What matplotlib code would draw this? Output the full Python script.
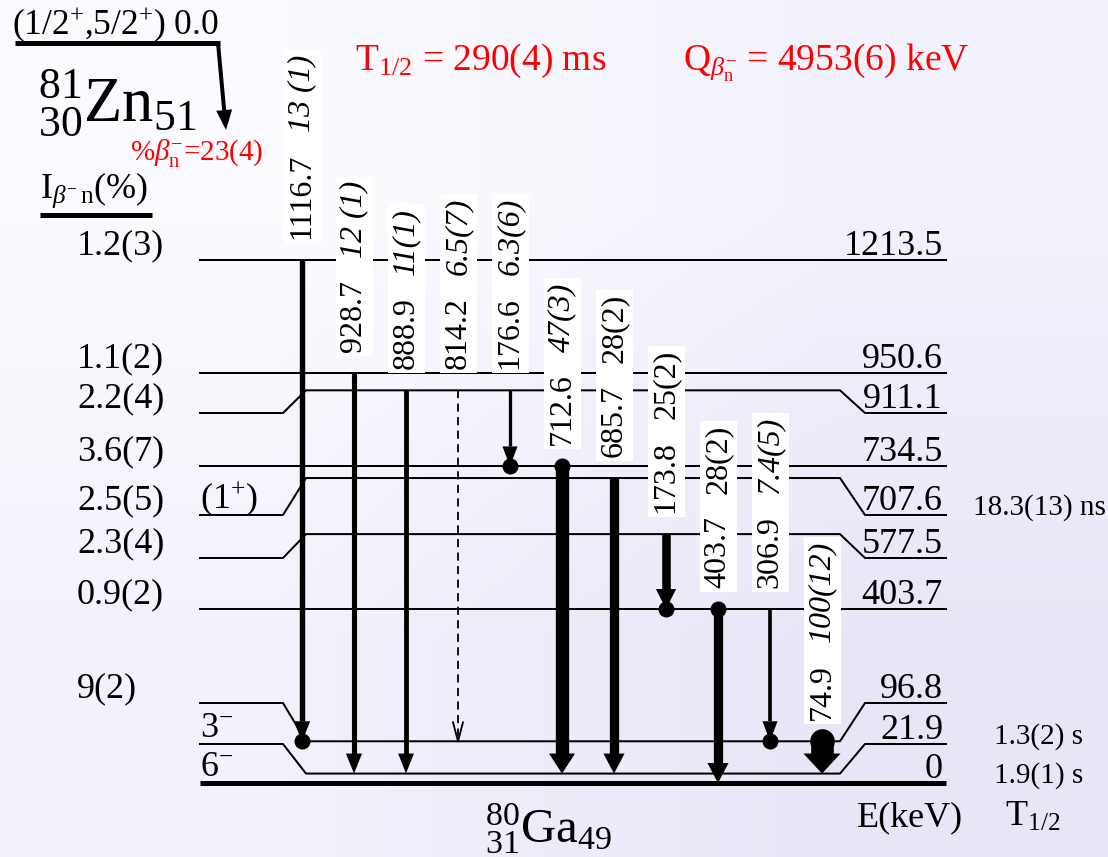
import numpy as np
import matplotlib
matplotlib.use("Agg")
import matplotlib.pyplot as plt
from matplotlib.patches import Rectangle
from matplotlib.transforms import Bbox

plt.rcParams['font.family'] = ['Liberation Serif', 'DejaVu Serif']
plt.rcParams['mathtext.fontset'] = 'custom'
plt.rcParams['mathtext.rm'] = 'Liberation Serif'
plt.rcParams['mathtext.it'] = 'Liberation Serif:italic'
plt.rcParams['mathtext.bf'] = 'Liberation Serif:bold'

W, H = 1108, 857

# levels of 80Ga (keV) and what goes with them
levels = [0.0, 21.9, 96.8, 403.7, 577.5, 707.6, 734.5, 911.1, 950.6, 1213.5]
level_labels = ["0", "21.9", "96.8", "403.7", "577.5", "707.6", "734.5", "911.1", "950.6", "1213.5"]
feeding = ["", "", "9(2)", "0.9(2)", "2.3(4)", "2.5(5)", "3.6(7)", "2.2(4)", "1.1(2)", "1.2(3)"]
spins = [r"6$^{-}$", r"3$^{-}$", "", "", "", r"(1$^{+}$)", "", "", "", ""]
half_lives = ["1.9(1) s", "1.3(2) s", "", "", "", "18.3(13) ns", "", "", "", ""]

# gamma transitions
gammas = [1116.7, 928.7, 888.9, 814.2, 176.6, 712.6, 685.7, 173.8, 403.7, 306.9, 74.9]
g_from = [1213.5, 950.6, 911.1, 911.1, 911.1, 734.5, 707.6, 577.5, 403.7, 403.7, 96.8]
g_int = [13, 12, 11, 6.5, 6.3, 47, 28, 25, 28, 7.4, 100]
g_int_txt = ["13 (1)", "12 (1)", "11(1)", "6.5(7)", "6.3(6)", "47(3)", "28(2)", "25(2)", "28(2)", "7.4(5)", "100(12)"]
tentative = [814.2]
coinc_start = [712.6, 403.7, 74.9]
coinc_end = [1116.7, 176.6, 173.8, 306.9]
upright_int = [685.7, 173.8, 403.7]

# layout (pixels)
Y0 = 783.0
K = 523.0 / 1213.5          # px per keV


def E(py):
    # pixel row -> keV on the drawing axis
    return (Y0 - py) / K


side_px = {21.9: 744, 96.8: 703, 577.5: 558, 707.6: 515, 911.1: 413}
XL0, XL1, XM0, XM1, XR1, XR0 = 200, 283, 306, 840, 865, 946
PX = 0.72  # points per pixel

fig = plt.figure(figsize=(W / 100, H / 100), dpi=100)
ax = fig.add_axes([0, 0, 1, 1])

# background
grad = np.array([[[0.985, 0.985, 1.0], [0.95, 0.95, 0.99]],
                 [[0.95, 0.95, 0.99], [0.905, 0.905, 0.97]]])
ax.imshow(grad, extent=[0, W, E(H), E(0)], aspect='auto', interpolation='bilinear', zorder=0)
ax.set_xlim(0, W)
ax.set_ylim(E(H), E(0))
ax.axis('off')
rend = fig.canvas.get_renderer()
inv = ax.transData.inverted()

# levels
for lev, lab, fd, sp, hl in zip(levels, level_labels, feeding, spins, half_lives):
    ys = E(side_px[lev]) if lev in side_px else lev
    if lev == 0:
        ax.plot([XL0, XR0], [lev, lev], color='k', lw=5 * PX, solid_capstyle='butt', zorder=2)
    else:
        ax.plot([XL0, XL1, XM0, XM1, XR1, XR0], [ys, ys, lev, lev, ys, ys],
                color='k', lw=2 * PX, zorder=2)
    ax.text(943, ys + 5 / K, lab, ha='right', va='baseline', fontsize=26)
    if fd:
        ax.text(77, ys + 6 / K, fd, ha='left', va='baseline', fontsize=26)
    if sp:
        ax.text(200, ys + 7 / K, sp, ha='left', va='baseline', fontsize=26)
    if hl:
        ax.text(1039, ys, hl, ha='center', va='baseline', fontsize=21)

# gammas
HL = 20  # head length px
for i, (eg, ei, I, it) in enumerate(zip(gammas, g_from, g_int, g_int_txt)):
    x = 302 + 52 * i
    ef = min(levels, key=lambda l: abs(l - (ei - eg)))

    # label: energy upright, intensity italic, on one white strip
    t1 = ax.text(x, ei + 21 / K, "%.1f" % eg, rotation=90, ha='center', va='bottom',
                 fontsize=23, zorder=3.5)
    bb1 = t1.get_window_extent(rend)
    y_top = inv.transform((bb1.x0, bb1.y1))[1]
    t2 = ax.text(x, y_top + 22 / K, it, rotation=90, ha='center', va='bottom', fontsize=23,
                 style='normal' if eg in upright_int else 'italic', zorder=3.5)
    bb2 = t2.get_window_extent(rend)
    bb = Bbox.union([bb1, bb2]).padded(4)
    (bx0, by0), (bx1, by1) = inv.transform([(bb.x0, bb.y0), (bb.x1, bb.y1)])
    ax.add_patch(Rectangle((bx0, by0), bx1 - bx0, by1 - by0, facecolor='white',
                           edgecolor='none', zorder=3))

    if eg in tentative:
        ax.plot([x, x], [ei, ef], color='k', lw=1.3, ls=(0, (4.5, 3)), zorder=4)
        ax.plot([x - 5, x, x + 5], [ef + 19 / K, ef, ef + 19 / K], color='k', lw=1.3, zorder=4)
        continue
    w = 0.9 * I ** 0.7
    hw = max(15, 1.2 * w + 10)
    ax.plot([x, x], [ei, ef + HL / K], color='k', lw=w * PX, solid_capstyle='butt', zorder=4)
    ax.fill([x - hw / 2, x + hw / 2, x], [ef + HL / K, ef + HL / K, ef], color='k', lw=0, zorder=4)
    d = max(16, w + 2)
    if eg in coinc_start:
        ax.scatter([x], [ei], s=(d * PX) ** 2, color='k', lw=0, zorder=5)
    if eg in coinc_end:
        ax.scatter([x], [ef], s=(d * PX) ** 2, color='k', lw=0, zorder=5)

# parent 81Zn
ax.plot([15, 220], [E(43), E(43)], color='k', lw=5 * PX, solid_capstyle='butt')
p0, p1 = np.array([218.0, 43.0]), np.array([226.0, 130.0])
u = (p1 - p0) / np.hypot(*(p1 - p0))
nv = np.array([-u[1], u[0]])
base = p1 - u * 20
ax.plot([p0[0], base[0]], [E(p0[1]), E(base[1])], color='k', lw=4 * PX, solid_capstyle='butt')
tri = [base + nv * 8, base - nv * 8, p1]
ax.fill([p[0] for p in tri], [E(p[1]) for p in tri], color='k', lw=0)
ax.text(12, E(34), r"(1/2$^{+}$,5/2$^{+}$) 0.0", ha='left', va='baseline', fontsize=25.5)
ax.text(38, E(122), r"${}^{81}_{30}\mathrm{Zn}_{51}$", ha='left', va='baseline', fontsize=45)
ax.text(130, E(160), r"$\%\beta^{-}_{\mathrm{n}}$=23(4)", ha='left', va='baseline',
        fontsize=21, color='red')
ax.text(40, E(198), r"I$_{\beta^{-}\,\mathrm{n}}$(%)", ha='left', va='baseline', fontsize=26)
ax.plot([40, 152], [E(215), E(215)], color='k', lw=5 * PX, solid_capstyle='butt')

# header
ax.text(355, E(70), r"T$_{1/2}$ = 290(4) ms", ha='left', va='baseline', fontsize=27, color='red')
ax.text(683, E(70), r"Q$_{\beta^{-}_{\mathrm{n}}}$ = 4953(6) keV", ha='left', va='baseline',
        fontsize=27, color='red')

# bottom
ax.text(485, E(843), r"${}^{80}_{31}\mathrm{Ga}_{49}$", ha='left', va='baseline', fontsize=35)
ax.text(857, E(826), "E(keV)", ha='left', va='baseline', fontsize=26)
ax.text(1005, E(826), r"T$_{1/2}$", ha='left', va='baseline', fontsize=26)

fig.savefig("out.png", dpi=100)
